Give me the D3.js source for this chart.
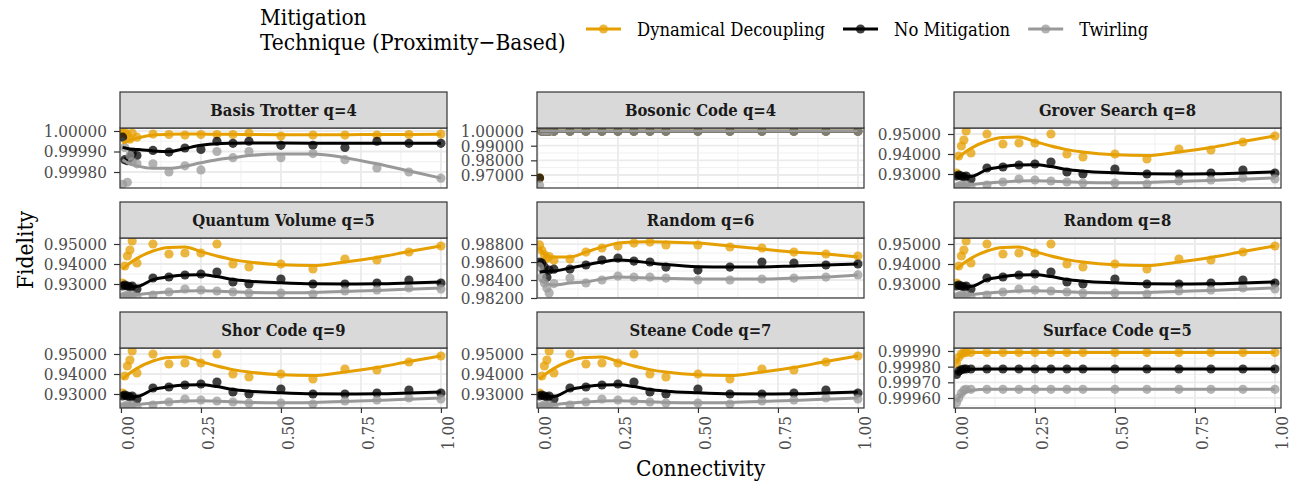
<!DOCTYPE html>
<html>
<head>
<meta charset="utf-8">
<script src="https://cdn.jsdelivr.net/npm/d3@7"></script>
<style>
    body { margin: 0; background: #fff; }
    svg text { font-family: "DejaVu Serif Condensed", "DejaVu Serif", serif; }
</style>
</head>
<body>
<div id="chart"></div>
<script>
///// DATOS /////
// x de los puntos y de las curvas suavizadas
const connectivity = [0.005, 0.012, 0.02, 0.028, 0.035, 0.05, 0.1, 0.15, 0.2, 0.25, 0.3, 0.35, 0.4, 0.5, 0.6, 0.7, 0.8, 0.9, 1.0];
const fitConnectivity = [0.005, 0.02, 0.05, 0.1, 0.15, 0.2, 0.25, 0.3, 0.35, 0.4, 0.5, 0.6, 0.7, 0.8, 0.9, 1.0];

const techniques = ['Dynamical Decoupling', 'No Mitigation', 'Twirling'];
const legendTitle = ['Mitigation', 'Technique (Proximity\u2212Based)'];

// Basis Trotter
const basisDD = [0.99999, 0.999995, 0.99998, 0.99996, 0.99999, 0.99997, 0.999985, 0.999983, 0.99998, 0.999983, 0.999983, 0.999983, 0.99999, 0.999975, 0.99998, 0.99998, 0.99998, 0.999983, 0.999985];
const basisNM = [0.99997, 0.99986, 0.999855, 0.99987, 0.99989, 0.99988, 0.999905, 0.999897, 0.999917, 0.99991, 0.99995, 0.99994, 0.99995, 0.99993, 0.99993, 0.99992, 0.99995, 0.99994, 0.99994];
const basisTW = [0.99974, 0.99992, 0.99975, 0.99988, 0.99985, 0.99984, 0.99984, 0.9998, 0.99983, 0.99981, 0.9999, 0.99987, 0.9999, 0.99987, 0.99989, 0.99986, 0.99982, 0.9998, 0.99977];
const basisDDFit = [0.99994, 0.99995, 0.999965, 0.99998, 0.999984, 0.999985, 0.999985, 0.999984, 0.999984, 0.999983, 0.999982, 0.999982, 0.999982, 0.999983, 0.999983, 0.999984];
const basisNMFit = [0.99992, 0.999915, 0.99991, 0.999903, 0.9999, 0.999915, 0.99993, 0.999938, 0.99994, 0.999941, 0.999941, 0.99994, 0.99994, 0.99994, 0.99994, 0.99994];
const basisTWFit = [0.99986, 0.999845, 0.99983, 0.999818, 0.999818, 0.999828, 0.999845, 0.99986, 0.99987, 0.99988, 0.999888, 0.999888, 0.99987, 0.99984, 0.999805, 0.99977];

// Bosonic Code
const bosonicDD = [0.968, 0.9999, 0.99995, 0.9999, 0.99993, 0.99994, 0.99995, 0.99994, 0.99995, 0.99995, 0.99994, 0.99995, 0.99995, 0.99994, 0.99995, 0.99995, 0.99994, 0.99995, 0.99995];
const bosonicNM = [0.9679, 0.99992, 0.99994, 0.99993, 0.99995, 0.99994, 0.99995, 0.99995, 0.99994, 0.99995, 0.99995, 0.99995, 0.99994, 0.99995, 0.99995, 0.99994, 0.99995, 0.99995, 0.99995];
const bosonicTW = [0.963, 0.9999, 0.99992, 0.9999, 0.99991, 0.99992, 0.99992, 0.99991, 0.99992, 0.99992, 0.99991, 0.99992, 0.99992, 0.99991, 0.99992, 0.99992, 0.99991, 0.99992, 0.99992];
const bosonicDDFit = [0.99994, 0.99994, 0.99994, 0.99994, 0.99994, 0.99994, 0.99994, 0.99994, 0.99994, 0.99994, 0.99994, 0.99994, 0.99994, 0.99994, 0.99994, 0.99994];
const bosonicNMFit = [0.99994, 0.99994, 0.99994, 0.99994, 0.99994, 0.99994, 0.99994, 0.99994, 0.99994, 0.99994, 0.99994, 0.99994, 0.99994, 0.99994, 0.99994, 0.99994];
const bosonicTWFit = [0.99991, 0.99991, 0.99991, 0.99991, 0.99991, 0.99991, 0.99991, 0.99991, 0.99991, 0.99991, 0.99991, 0.99991, 0.99991, 0.99991, 0.99991, 0.99991];

// Grover / Quantum Volume / Random q=8 / Shor / Steane (mismo patrón)
const sharedDD = [0.9305, 0.939, 0.944, 0.947, 0.9515, 0.9405, 0.95, 0.945, 0.9455, 0.9455, 0.95, 0.94, 0.9385, 0.94, 0.9375, 0.9425, 0.942, 0.946, 0.949];
const sharedNM = [0.929, 0.9295, 0.929, 0.9285, 0.929, 0.9275, 0.933, 0.9335, 0.9345, 0.935, 0.936, 0.931, 0.93, 0.9325, 0.93, 0.93, 0.9305, 0.932, 0.9305];
const sharedTW = [0.9235, 0.924, 0.9245, 0.924, 0.9245, 0.9235, 0.9245, 0.926, 0.9275, 0.927, 0.9265, 0.926, 0.9255, 0.9255, 0.925, 0.9265, 0.927, 0.928, 0.9275];
const sharedDDFit = [0.9375, 0.9395, 0.9428, 0.9465, 0.9483, 0.9485, 0.9462, 0.944, 0.9422, 0.941, 0.9396, 0.9392, 0.941, 0.9433, 0.9462, 0.949];
const sharedNMFit = [0.929, 0.9288, 0.9288, 0.9322, 0.9337, 0.9345, 0.9346, 0.9337, 0.9322, 0.9314, 0.9306, 0.9301, 0.93, 0.9301, 0.9305, 0.931];
const sharedTWFit = [0.9242, 0.9245, 0.9248, 0.9255, 0.926, 0.9265, 0.9266, 0.9264, 0.9261, 0.9258, 0.9256, 0.9258, 0.9263, 0.9268, 0.9274, 0.928];

// Random q=6
const random6DD = [0.9879, 0.9873, 0.9868, 0.9864, 0.9866, 0.9862, 0.98633, 0.98711, 0.98756, 0.98778, 0.98811, 0.98822, 0.98789, 0.98789, 0.98767, 0.98756, 0.98711, 0.98689, 0.98667];
const random6NM = [0.986, 0.98589, 0.98545, 0.9843, 0.9851, 0.9852, 0.98522, 0.98567, 0.98622, 0.98644, 0.98611, 0.986, 0.98544, 0.9851, 0.98544, 0.986, 0.98589, 0.98567, 0.98578];
const random6TW = [0.98545, 0.98433, 0.98367, 0.9831, 0.98256, 0.9836, 0.98422, 0.98367, 0.984, 0.98444, 0.98433, 0.98433, 0.98422, 0.984, 0.984, 0.98411, 0.98422, 0.98433, 0.98456];
const random6DDFit = [0.9876, 0.9869, 0.98655, 0.98656, 0.9871, 0.98765, 0.9881, 0.98822, 0.98825, 0.98822, 0.98811, 0.98778, 0.98744, 0.98711, 0.98689, 0.98656];
const random6NMFit = [0.98489, 0.98495, 0.985, 0.98533, 0.98567, 0.986, 0.98622, 0.98611, 0.9859, 0.98572, 0.98548, 0.98544, 0.98546, 0.98556, 0.98567, 0.98578];
const random6TWFit = [0.984, 0.9837, 0.98344, 0.98367, 0.98378, 0.98411, 0.98433, 0.98428, 0.98422, 0.98418, 0.98411, 0.9841, 0.98411, 0.98422, 0.98433, 0.98456];

// Surface Code
const surfaceDD = [0.99982, 0.99986, 0.99988, 0.99989, 0.99989, 0.99989, 0.99989, 0.99989, 0.99989, 0.99989, 0.99989, 0.99989, 0.99989, 0.99989, 0.99989, 0.99989, 0.99989, 0.99989, 0.99989];
const surfaceNM = [0.99975, 0.99977, 0.99978, 0.999785, 0.999785, 0.999785, 0.999785, 0.999785, 0.999785, 0.999785, 0.999785, 0.999785, 0.999785, 0.999785, 0.999785, 0.999785, 0.999785, 0.999785, 0.999785];
const surfaceTW = [0.99957, 0.9996, 0.99963, 0.99965, 0.999655, 0.999655, 0.999655, 0.999655, 0.999655, 0.999655, 0.999655, 0.999655, 0.999655, 0.999655, 0.999655, 0.999655, 0.999655, 0.999655, 0.999655];
const surfaceDDFit = [0.99982, 0.999875, 0.99989, 0.99989, 0.99989, 0.99989, 0.99989, 0.99989, 0.99989, 0.99989, 0.99989, 0.99989, 0.99989, 0.99989, 0.99989, 0.99989];
const surfaceNMFit = [0.999757, 0.99978, 0.999783, 0.999785, 0.999785, 0.999785, 0.999785, 0.999785, 0.999785, 0.999785, 0.999785, 0.999785, 0.999785, 0.999785, 0.999785, 0.999785];
const surfaceTWFit = [0.99958, 0.99962, 0.999648, 0.999655, 0.999655, 0.999655, 0.999655, 0.999655, 0.999655, 0.999655, 0.999655, 0.999655, 0.999655, 0.999655, 0.999655, 0.999655];

// Límites y ticks del eje Y de cada conjunto
const basisLimits = [0.999722, 1.0000146], basisTicks = [0.9998, 0.9999, 1.0];
const bosonicLimits = [0.9611, 1.0021], bosonicTicks = [0.97, 0.98, 0.99, 1.0];
const sharedLimits = [0.923, 0.953], sharedTicks = [0.93, 0.94, 0.95];
const random6Limits = [0.982, 0.98867], random6Ticks = [0.982, 0.984, 0.986, 0.988];
const surfaceLimits = [0.999536, 0.999919], surfaceTicks = [0.9996, 0.9997, 0.9998, 0.9999];

const xTicks = [0, 0.25, 0.5, 0.75, 1.0];
const xLimits = [-0.003, 1.019];

// Paneles (orden de lectura)
const panelTitles = ['Basis Trotter q=4', 'Bosonic Code q=4', 'Grover Search q=8',
    'Quantum Volume q=5', 'Random q=6', 'Random q=8',
    'Shor Code q=9', 'Steane Code q=7', 'Surface Code q=5'];

const datasets = {
    basis: { pts: [basisDD, basisNM, basisTW], fit: [basisDDFit, basisNMFit, basisTWFit], lim: basisLimits, ticks: basisTicks },
    bosonic: { pts: [bosonicDD, bosonicNM, bosonicTW], fit: [bosonicDDFit, bosonicNMFit, bosonicTWFit], lim: bosonicLimits, ticks: bosonicTicks },
    shared: { pts: [sharedDD, sharedNM, sharedTW], fit: [sharedDDFit, sharedNMFit, sharedTWFit], lim: sharedLimits, ticks: sharedTicks },
    random6: { pts: [random6DD, random6NM, random6TW], fit: [random6DDFit, random6NMFit, random6TWFit], lim: random6Limits, ticks: random6Ticks },
    surface: { pts: [surfaceDD, surfaceNM, surfaceTW], fit: [surfaceDDFit, surfaceNMFit, surfaceTWFit], lim: surfaceLimits, ticks: surfaceTicks }
};
const panelData = ['basis', 'bosonic', 'shared', 'shared', 'random6', 'shared', 'shared', 'shared', 'surface'];

///// ESTILOS /////
const fontFamily = '"DejaVu Serif Condensed", "DejaVu Serif", serif';
const colors = ['#E69F00', '#000000', '#999999'];
const width = 1296, height = 486;
const panelLeft = 120, panelW = 327, colGap = 90;
const stripTop = 92, stripH = 36, panelH = 60, rowGap = 14;
const tickFont = 17, stripFont = 16.5, legendFont = 18.3, titleFont = 22.5;

let svg = d3.select('#chart').append('svg')
    .attr('width', width)
    .attr('height', height)
    .style('display', 'block');

let x = d3.scaleLinear().domain(xLimits).range([0, panelW]);
let xMinor = d3.range(0.125, 1, 0.25);

let line = d3.line()
    .curve(d3.curveMonotoneX);

panelTitles.forEach(function(title, i) {
    let col = i % 3, row = Math.floor(i / 3);
    let px = panelLeft + col * (panelW + colGap);
    let sy = stripTop + row * (stripH + panelH + rowGap);
    let py = sy + stripH;
    let ds = datasets[panelData[i]];

    let y = d3.scaleLinear().domain(ds.lim).range([panelH, 0]);

    let g = svg.append('g').attr('transform', 'translate(' + px + ',' + py + ')');

    g.append('defs').append('clipPath').attr('id', 'clip' + i)
        .append('rect').attr('width', panelW).attr('height', panelH);

    g.append('rect').attr('width', panelW).attr('height', panelH).attr('fill', '#fff');

    // Rejilla menor y mayor
    let step = ds.ticks[1] - ds.ticks[0];
    let yMinor = [ds.ticks[0] - step / 2].concat(ds.ticks.map(function(t) { return t + step / 2; }))
        .filter(function(v) { return v > ds.lim[0] && v < ds.lim[1]; });

    let grid = g.append('g').attr('clip-path', 'url(#clip' + i + ')');
    grid.selectAll('.ymin').data(yMinor).enter().append('line')
        .attr('x1', 0).attr('x2', panelW)
        .attr('y1', function(d) { return y(d); }).attr('y2', function(d) { return y(d); })
        .attr('stroke', '#f0f0f0').attr('stroke-width', 1);
    grid.selectAll('.xmin').data(xMinor).enter().append('line')
        .attr('y1', 0).attr('y2', panelH)
        .attr('x1', function(d) { return x(d); }).attr('x2', function(d) { return x(d); })
        .attr('stroke', '#f0f0f0').attr('stroke-width', 1);
    grid.selectAll('.ymaj').data(ds.ticks).enter().append('line')
        .attr('x1', 0).attr('x2', panelW)
        .attr('y1', function(d) { return y(d); }).attr('y2', function(d) { return y(d); })
        .attr('stroke', '#ebebeb').attr('stroke-width', 1.8);
    grid.selectAll('.xmaj').data(xTicks).enter().append('line')
        .attr('y1', 0).attr('y2', panelH)
        .attr('x1', function(d) { return x(d); }).attr('x2', function(d) { return x(d); })
        .attr('stroke', '#ebebeb').attr('stroke-width', 1.8);

    let marks = g.append('g').attr('clip-path', 'url(#clip' + i + ')');

    // Puntos
    ds.pts.forEach(function(serie, k) {
        marks.append('g').selectAll('circle')
            .data(serie)
            .enter()
            .append('circle')
            .attr('cx', function(d, j) { return x(connectivity[j]); })
            .attr('cy', function(d) { return y(d); })
            .attr('r', 4.6)
            .attr('fill', colors[k])
            .attr('fill-opacity', 0.75);
    });

    // Curvas suavizadas
    ds.fit.forEach(function(serie, k) {
        marks.append('path')
            .datum(serie.map(function(d, j) { return [x(fitConnectivity[j]), y(d)]; }))
            .attr('d', line)
            .attr('fill', 'none')
            .attr('stroke', colors[k])
            .attr('stroke-width', 3);
    });

    g.append('rect').attr('width', panelW).attr('height', panelH)
        .attr('fill', 'none').attr('stroke', '#333333').attr('stroke-width', 1.2);

    // Strip
    svg.append('rect')
        .attr('x', px).attr('y', sy).attr('width', panelW).attr('height', stripH)
        .attr('fill', '#d9d9d9').attr('stroke', '#333333').attr('stroke-width', 1.2);
    svg.append('text')
        .attr('x', px + panelW / 2).attr('y', sy + stripH / 2)
        .attr('text-anchor', 'middle').attr('dominant-baseline', 'central')
        .attr('font-size', stripFont).attr('font-weight', 'bold').attr('fill', '#1a1a1a')
        .text(title);

    // Eje Y
    let yAxis = g.append('g')
        .call(d3.axisLeft(y).tickValues(ds.ticks).tickFormat(d3.format('.5f')).tickSize(6).tickPadding(7));
    yAxis.select('.domain').remove();
    yAxis.selectAll('.tick line').attr('stroke', '#333333').attr('stroke-width', 1.2);
    yAxis.selectAll('.tick text')
        .attr('font-size', tickFont).attr('fill', '#4d4d4d')
        .attr('font-family', fontFamily);

    // Eje X solo en la última fila
    if (row === 2) {
        let xAxis = g.append('g').attr('transform', 'translate(0,' + panelH + ')')
            .call(d3.axisBottom(x).tickValues(xTicks).tickFormat(d3.format('.2f')).tickSize(5));
        xAxis.select('.domain').remove();
        xAxis.selectAll('.tick line').attr('stroke', '#333333').attr('stroke-width', 1.2);
        xAxis.selectAll('.tick text')
            .attr('font-size', tickFont).attr('fill', '#4d4d4d')
            .attr('font-family', fontFamily)
            .attr('transform', 'rotate(-90)')
            .attr('x', -8).attr('y', 0).attr('dy', 0)
            .attr('text-anchor', 'end')
            .attr('dominant-baseline', 'hanging');
    }
});

// Títulos de ejes
svg.append('text')
    .attr('x', panelLeft + (3 * panelW + 2 * colGap) / 2).attr('y', 468)
    .attr('text-anchor', 'middle').attr('dominant-baseline', 'central')
    .attr('font-size', titleFont).attr('fill', '#000')
    .text('Connectivity');

svg.append('text')
    .attr('transform', 'translate(25,250) rotate(-90)')
    .attr('text-anchor', 'middle').attr('dominant-baseline', 'central')
    .attr('font-size', titleFont).attr('fill', '#000')
    .text('Fidelity');

// Leyenda
let legend = svg.append('g');
legendTitle.forEach(function(t, i) {
    legend.append('text')
        .attr('x', 260).attr('y', 17 + i * 25)
        .attr('dominant-baseline', 'central')
        .attr('font-size', titleFont).attr('fill', '#000')
        .text(t);
});

let lx = 586;
techniques.forEach(function(t, k) {
    let item = legend.append('g');
    item.append('line')
        .attr('x1', lx).attr('x2', lx + 35).attr('y1', 29).attr('y2', 29)
        .attr('stroke', colors[k]).attr('stroke-width', 3);
    item.append('circle')
        .attr('cx', lx + 17.5).attr('cy', 29).attr('r', 4.6)
        .attr('fill', colors[k]).attr('fill-opacity', 0.75);
    let label = item.append('text')
        .attr('x', lx + 51).attr('y', 29)
        .attr('dominant-baseline', 'central')
        .attr('font-size', legendFont).attr('fill', '#000')
        .text(t);
    lx = lx + 51 + label.node().getComputedTextLength() + 18;
});
</script>
</body>
</html>
